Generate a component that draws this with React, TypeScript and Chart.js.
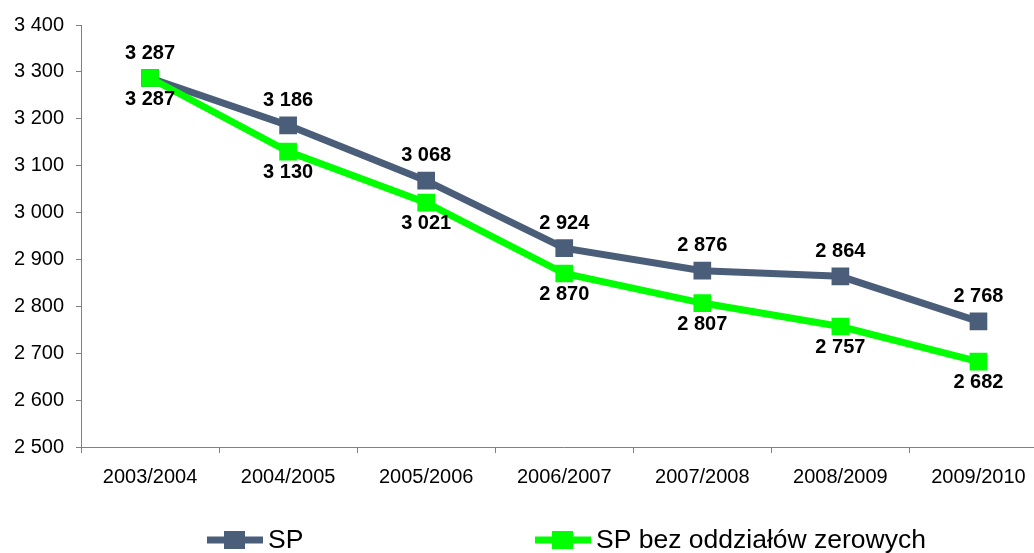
import React, { useEffect, useRef } from "react";
import { Chart, registerables } from "chart.js";

Chart.register(...registerables);

const categories = ["2003/2004", "2004/2005", "2005/2006", "2006/2007", "2007/2008", "2008/2009", "2009/2010"];
const spValues = [3287, 3186, 3068, 2924, 2876, 2864, 2768];
const spBezValues = [3287, 3130, 3021, 2870, 2807, 2757, 2682];
const seriesLabels = ["SP", "SP bez oddziałów zerowych"];
const seriesColors = ["#4A5E7A", "#00FF00"];
const yMin = 2500;
const yMax = 3400;
const yStep = 100;

const FONT = "'Liberation Sans', Arial, sans-serif";

const fmt = (v: number) => String(Math.round(v)).replace(/\B(?=(\d{3})+(?!\d))/g, " ");

const valueLabelPlugin = {
  id: "valueLabels",
  afterDatasetsDraw(chart: any) {
    const ctx = chart.ctx;
    ctx.save();
    ctx.font = `bold 20px ${FONT}`;
    ctx.fillStyle = "#000";
    ctx.textAlign = "center";
    ctx.textBaseline = "middle";
    chart.data.datasets.forEach((ds: any, i: number) => {
      const meta = chart.getDatasetMeta(i);
      meta.data.forEach((pt: any, j: number) => {
        const above = ds.labelPos === "above";
        const dy = above ? -25 : 21;
        ctx.fillText(fmt(ds.data[j]), pt.x, pt.y + dy);
      });
    });
    ctx.restore();
  },
};

const legendPlugin = {
  id: "customLegend",
  afterDraw(chart: any) {
    const ctx = chart.ctx;
    const starts = [207, 535];
    const y = 540;
    ctx.save();
    chart.data.datasets.forEach((ds: any, i: number) => {
      const x0 = starts[i];
      ctx.strokeStyle = ds.borderColor;
      ctx.lineWidth = 7;
      ctx.beginPath();
      ctx.moveTo(x0, y);
      ctx.lineTo(x0 + 56, y);
      ctx.stroke();
      ctx.fillStyle = ds.borderColor;
      ctx.fillRect(x0 + 17, y - 9, 21, 18);
      ctx.fillStyle = "#000";
      ctx.font = `26.5px ${FONT}`;
      ctx.textAlign = "left";
      ctx.textBaseline = "middle";
      ctx.fillText(ds.label, x0 + 61, y + 1);
    });
    ctx.restore();
  },
};

export default function App() {
  const ref = useRef<HTMLCanvasElement | null>(null);
  useEffect(() => {
    if (!ref.current) return;
    const chart = new Chart(ref.current, {
      type: "line",
      data: {
        labels: categories,
        datasets: [
          {
            label: seriesLabels[0],
            data: spValues,
            borderColor: seriesColors[0],
            backgroundColor: seriesColors[0],
            borderWidth: 7,
            pointStyle: "rect",
            pointRadius: 12.5,
            pointHoverRadius: 12.5,
            pointBorderWidth: 0,
            tension: 0,
            order: 2,
            labelPos: "above",
          } as any,
          {
            label: seriesLabels[1],
            data: spBezValues,
            borderColor: seriesColors[1],
            backgroundColor: seriesColors[1],
            borderWidth: 7,
            pointStyle: "rect",
            pointRadius: 12.5,
            pointHoverRadius: 12.5,
            pointBorderWidth: 0,
            tension: 0,
            order: 1,
            labelPos: "below",
          } as any,
        ],
      },
      options: {
        responsive: false,
        animation: false,
        layout: { padding: { top: 25, left: 0, right: 0, bottom: 0 } },
        plugins: {
          legend: { display: false },
          tooltip: { enabled: false },
        },
        scales: {
          x: {
            type: "category",
            offset: true,
            grid: {
              offset: true,
              drawOnChartArea: false,
              drawTicks: true,
              tickLength: 6,
              color: "#808080",
            },
            border: { display: true, color: "#808080", width: 1 },
            ticks: {
              color: "#000",
              font: { family: FONT, size: 20 },
              padding: 12,
              maxRotation: 0,
              autoSkip: false,
            },
            afterFit: (scale: any) => {
              scale.height = 106;
            },
          },
          y: {
            type: "linear",
            min: yMin,
            max: yMax,
            grid: {
              drawOnChartArea: false,
              drawTicks: true,
              tickLength: 5,
              color: "#808080",
            },
            border: { display: true, color: "#808080", width: 1 },
            ticks: {
              stepSize: yStep,
              color: "#000",
              font: { family: FONT, size: 20 },
              padding: 12,
              callback: (v: any) => fmt(Number(v)),
            },
            afterFit: (scale: any) => {
              scale.width = 81;
            },
          },
        },
      },
      plugins: [valueLabelPlugin, legendPlugin],
    } as any);
    return () => chart.destroy();
  }, []);
  return (
    <div style={{ position: "fixed", left: 0, top: 0, width: 1034, height: 553, overflow: "hidden", background: "#fff" }}>
      <div style={{ width: 1060, height: 553 }}>
        <canvas ref={ref} width={1060} height={553} style={{ display: "block", width: 1060, height: 553 }} />
      </div>
    </div>
  );
}
